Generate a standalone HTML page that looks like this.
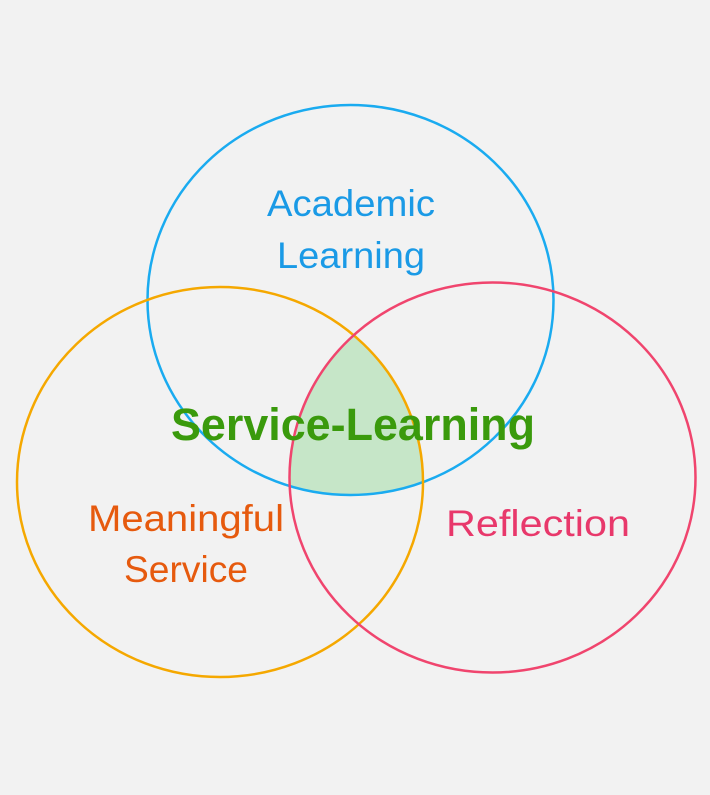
<!DOCTYPE html>
<html><head><meta charset="utf-8"><style>html,body{margin:0;padding:0;background:#f2f2f2}</style></head>
<body>
<svg width="710" height="790" viewBox="0 0 710 790" xmlns="http://www.w3.org/2000/svg">
<defs>
<clipPath id="cb"><ellipse cx="350.5" cy="300" rx="203" ry="195"/></clipPath>
<clipPath id="co"><ellipse cx="220" cy="482" rx="203" ry="195"/></clipPath>
</defs>
<rect width="710" height="790" fill="#f2f2f2"/>
<g clip-path="url(#cb)"><g clip-path="url(#co)">
<ellipse cx="492.5" cy="477.5" rx="203" ry="195" fill="#c6e6c8"/>
</g></g>
<ellipse cx="350.5" cy="300" rx="203" ry="195" fill="none" stroke="#1aabf0" stroke-width="2.5"/>
<ellipse cx="220" cy="482" rx="203" ry="195" fill="none" stroke="#f5a800" stroke-width="2.5"/>
<ellipse cx="492.5" cy="477.5" rx="203" ry="195" fill="none" stroke="#f0456e" stroke-width="2.5"/>
<g font-family="Liberation Sans, sans-serif" text-anchor="middle">
<text x="351" y="216" font-size="37" fill="#1a9ae6" textLength="168" lengthAdjust="spacingAndGlyphs">Academic</text>
<text x="351" y="268" font-size="37" fill="#1a9ae6" textLength="148" lengthAdjust="spacingAndGlyphs">Learning</text>
<text x="353" y="440" font-size="45" font-weight="bold" fill="#3a9a0c" textLength="364" lengthAdjust="spacingAndGlyphs">Service-Learning</text>
<text x="186" y="531" font-size="37" fill="#e65a0e" textLength="196" lengthAdjust="spacingAndGlyphs">Meaningful</text>
<text x="186" y="582" font-size="37" fill="#e65a0e" textLength="124" lengthAdjust="spacingAndGlyphs">Service</text>
<text x="538" y="536" font-size="37" fill="#e8386b" textLength="184" lengthAdjust="spacingAndGlyphs">Reflection</text>
</g>
</svg>
</body></html>
